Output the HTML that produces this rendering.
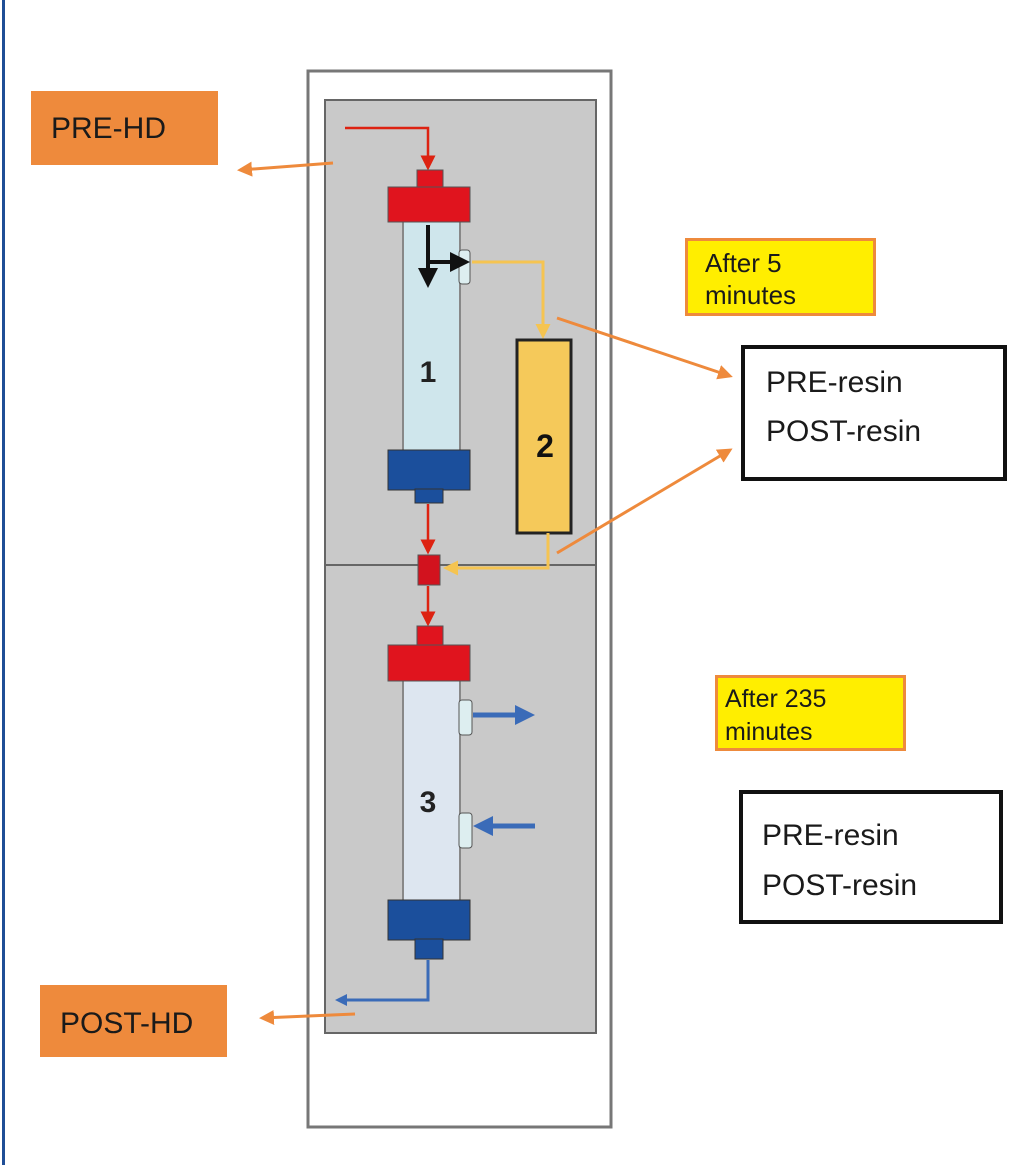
<!DOCTYPE html>
<html><head><style>body{margin:0;background:#fff}svg{display:block}</style></head>
<body>
<svg width="1016" height="1165" viewBox="0 0 1016 1165" xmlns="http://www.w3.org/2000/svg" font-family="Liberation Sans, sans-serif">
<defs>
<marker id="ar" markerWidth="6" markerHeight="6" refX="5" refY="3" orient="auto" markerUnits="strokeWidth"><path d="M0,0 L6,3 L0,6 z" fill="#d21"/></marker>
<marker id="ab" markerWidth="5" markerHeight="5" refX="3" refY="2.5" orient="auto" markerUnits="strokeWidth"><path d="M0,0 L5,2.5 L0,5 z" fill="#111"/></marker>
<marker id="ay" markerWidth="5" markerHeight="5" refX="4" refY="2.5" orient="auto" markerUnits="strokeWidth"><path d="M0,0 L5,2.5 L0,5 z" fill="#f5c451"/></marker>
<marker id="abl" markerWidth="4" markerHeight="4" refX="3" refY="2" orient="auto" markerUnits="strokeWidth"><path d="M0,0 L4,2 L0,4 z" fill="#3a6bb8"/></marker>
<marker id="ao" markerWidth="5" markerHeight="5" refX="4" refY="2.5" orient="auto" markerUnits="strokeWidth"><path d="M0,0 L5,2.5 L0,5 z" fill="#ee8a3c"/></marker>
</defs>
<rect x="2" y="0" width="3" height="1165" fill="#1f4e96"/>
<rect x="308" y="71" width="303" height="1056" fill="#fff" stroke="#777" stroke-width="3"/>
<rect x="325" y="100" width="271" height="933" fill="#c9c9c9" stroke="#666" stroke-width="2"/>
<line x1="325" y1="565" x2="596" y2="565" stroke="#666" stroke-width="2"/>
<!-- red inlet -->
<polyline points="345,128 428,128 428,168" fill="none" stroke="#d21" stroke-width="2.5" marker-end="url(#ar)"/>
<!-- column1 -->
<rect x="403" y="220" width="57" height="232" fill="#cfe6ec" stroke="#888" stroke-width="2"/>
<rect x="417" y="170" width="26" height="19" fill="#e0141e" stroke="#555"/>
<rect x="388" y="187" width="82" height="35" fill="#e0141e" stroke="#555"/>
<rect x="388" y="450" width="82" height="40" fill="#1b4f9c" stroke="#333"/>
<rect x="415" y="489" width="28" height="14" fill="#1b4f9c" stroke="#333"/>
<rect x="459" y="250" width="11" height="34" rx="3" fill="#ddeef0" stroke="#555"/>
<text x="428" y="382" font-size="30" font-weight="bold" text-anchor="middle" fill="#222">1</text>
<line x1="428" y1="225" x2="428" y2="280" stroke="#111" stroke-width="4" marker-end="url(#ab)"/>
<line x1="428" y1="262" x2="462" y2="262" stroke="#111" stroke-width="4" marker-end="url(#ab)"/>
<!-- yellow -->
<polyline points="472,262 543,262 543,336" fill="none" stroke="#f5c451" stroke-width="3" marker-end="url(#ay)"/>
<rect x="517" y="340" width="54" height="193" fill="#f5c95a" stroke="#222" stroke-width="3"/>
<text x="545" y="457" font-size="32" font-weight="bold" text-anchor="middle" fill="#111">2</text>
<polyline points="548,533 548,568 446,568" fill="none" stroke="#f5c451" stroke-width="3" marker-end="url(#ay)"/>
<rect x="418" y="555" width="22" height="30" fill="#d2121e" stroke="#555"/>
<line x1="428" y1="504" x2="428" y2="552" stroke="#d21" stroke-width="2.5" marker-end="url(#ar)"/>
<line x1="428" y1="586" x2="428" y2="624" stroke="#d21" stroke-width="2.5" marker-end="url(#ar)"/>
<!-- column3 -->
<rect x="403" y="680" width="57" height="222" fill="#dde6f0" stroke="#888" stroke-width="2"/>
<rect x="417" y="626" width="26" height="20" fill="#e0141e" stroke="#555"/>
<rect x="388" y="645" width="82" height="36" fill="#e0141e" stroke="#555"/>
<rect x="388" y="900" width="82" height="40" fill="#1b4f9c" stroke="#333"/>
<rect x="415" y="939" width="28" height="20" fill="#1b4f9c" stroke="#333"/>
<rect x="459" y="700" width="13" height="35" rx="3" fill="#ddeef0" stroke="#555"/>
<rect x="459" y="813" width="13" height="35" rx="3" fill="#ddeef0" stroke="#555"/>
<text x="428" y="812" font-size="30" font-weight="bold" text-anchor="middle" fill="#222">3</text>
<line x1="473" y1="715" x2="530" y2="715" stroke="#3a6bb8" stroke-width="5" marker-end="url(#abl)"/>
<line x1="535" y1="826" x2="478" y2="826" stroke="#3a6bb8" stroke-width="5" marker-end="url(#abl)"/>
<polyline points="428,960 428,1000 338,1000" fill="none" stroke="#3a6bb8" stroke-width="3" marker-end="url(#abl)"/>
<!-- orange arrows -->
<line x1="333" y1="163" x2="240" y2="170" stroke="#ee8a3c" stroke-width="3" marker-end="url(#ao)"/>
<line x1="355" y1="1014" x2="262" y2="1018" stroke="#ee8a3c" stroke-width="3" marker-end="url(#ao)"/>
<line x1="557" y1="318" x2="730" y2="376" stroke="#ee8a3c" stroke-width="3" marker-end="url(#ao)"/>
<line x1="557" y1="553" x2="730" y2="450" stroke="#ee8a3c" stroke-width="3" marker-end="url(#ao)"/>
<!-- labels -->
<rect x="31" y="91" width="187" height="74" fill="#ee8a3c"/>
<text x="51" y="138" font-size="30" fill="#1a1a1a">PRE-HD</text>
<rect x="40" y="985" width="187" height="72" fill="#ee8a3c"/>
<text x="60" y="1033" font-size="30" fill="#1a1a1a">POST-HD</text>
<rect x="686.5" y="239.5" width="188" height="75" fill="#ffee00" stroke="#ee8a3c" stroke-width="3"/>
<text x="705" y="272" font-size="26" fill="#1a1a1a">After 5</text>
<text x="705" y="304" font-size="26" fill="#1a1a1a">minutes</text>
<rect x="716.5" y="676.5" width="188" height="73" fill="#ffee00" stroke="#ee8a3c" stroke-width="3"/>
<text x="725" y="707" font-size="25" fill="#1a1a1a">After 235</text>
<text x="725" y="740" font-size="25" fill="#1a1a1a">minutes</text>
<rect x="743" y="347" width="262" height="132" fill="#fff" stroke="#111" stroke-width="4"/>
<text x="766" y="392" font-size="30" fill="#1a1a1a">PRE-resin</text>
<text x="766" y="441" font-size="30" fill="#1a1a1a">POST-resin</text>
<rect x="741" y="792" width="260" height="130" fill="#fff" stroke="#111" stroke-width="4"/>
<text x="762" y="845" font-size="30" fill="#1a1a1a">PRE-resin</text>
<text x="762" y="895" font-size="30" fill="#1a1a1a">POST-resin</text>
</svg>
</body></html>
